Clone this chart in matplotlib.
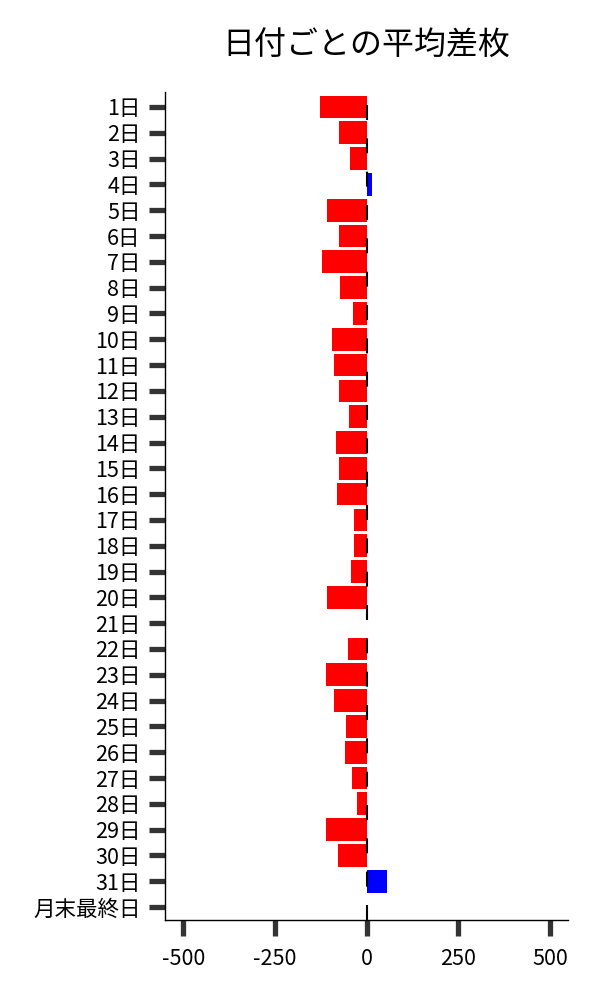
import matplotlib
matplotlib.use('Agg')
import matplotlib.pyplot as plt

plt.rcParams['font.family'] = ['Noto Sans CJK JP', 'DejaVu Sans']

# Average difference per day of month
days = [f'{d}日' for d in range(1, 32)] + ['月末最終日']
diffs = [-127, -76, -46, 15, -108, -76, -122, -73, -38, -94,
         -89, -76, -48, -83, -76, -81, -35, -35, -43, -108,
         0, -51, -111, -89, -57, -59, -41, -27, -111, -78,
         57, 2]

colors = ['#0000ff' if v > 0 else '#ff0000' for v in diffs]

fig = plt.figure(figsize=(6, 10), dpi=100)
ax = fig.add_axes([0.275, 0.08, 0.672, 0.828])

ypos = list(range(len(days)))
ax.barh(ypos, diffs, height=0.88, color=colors, zorder=2)
ax.axvline(0, color='black', lw=1.5, linestyle=(0, (7.2, 8.8)), zorder=3)

ax.set_yticks(ypos)
ax.set_yticklabels(days)
ax.set_ylim(len(days) - 0.5, -0.58)
ax.set_xlim(-550, 550)
ax.set_xticks([-500, -250, 0, 250, 500])
ax.set_xticklabels(['-500', '-250', '0', '250', '500'])

ax.tick_params(axis='both', length=11.5, width=3.8, color='#333333',
               labelsize=15.5)
ax.tick_params(axis='y', pad=6)
ax.tick_params(axis='x', pad=9)
for s in ['top', 'right']:
    ax.spines[s].set_visible(False)
for s in ['left', 'bottom']:
    ax.spines[s].set_linewidth(1.0)

ax.set_title('日付ごとの平均差枚', fontsize=23, pad=27)

fig.savefig('out.png', dpi=100)
